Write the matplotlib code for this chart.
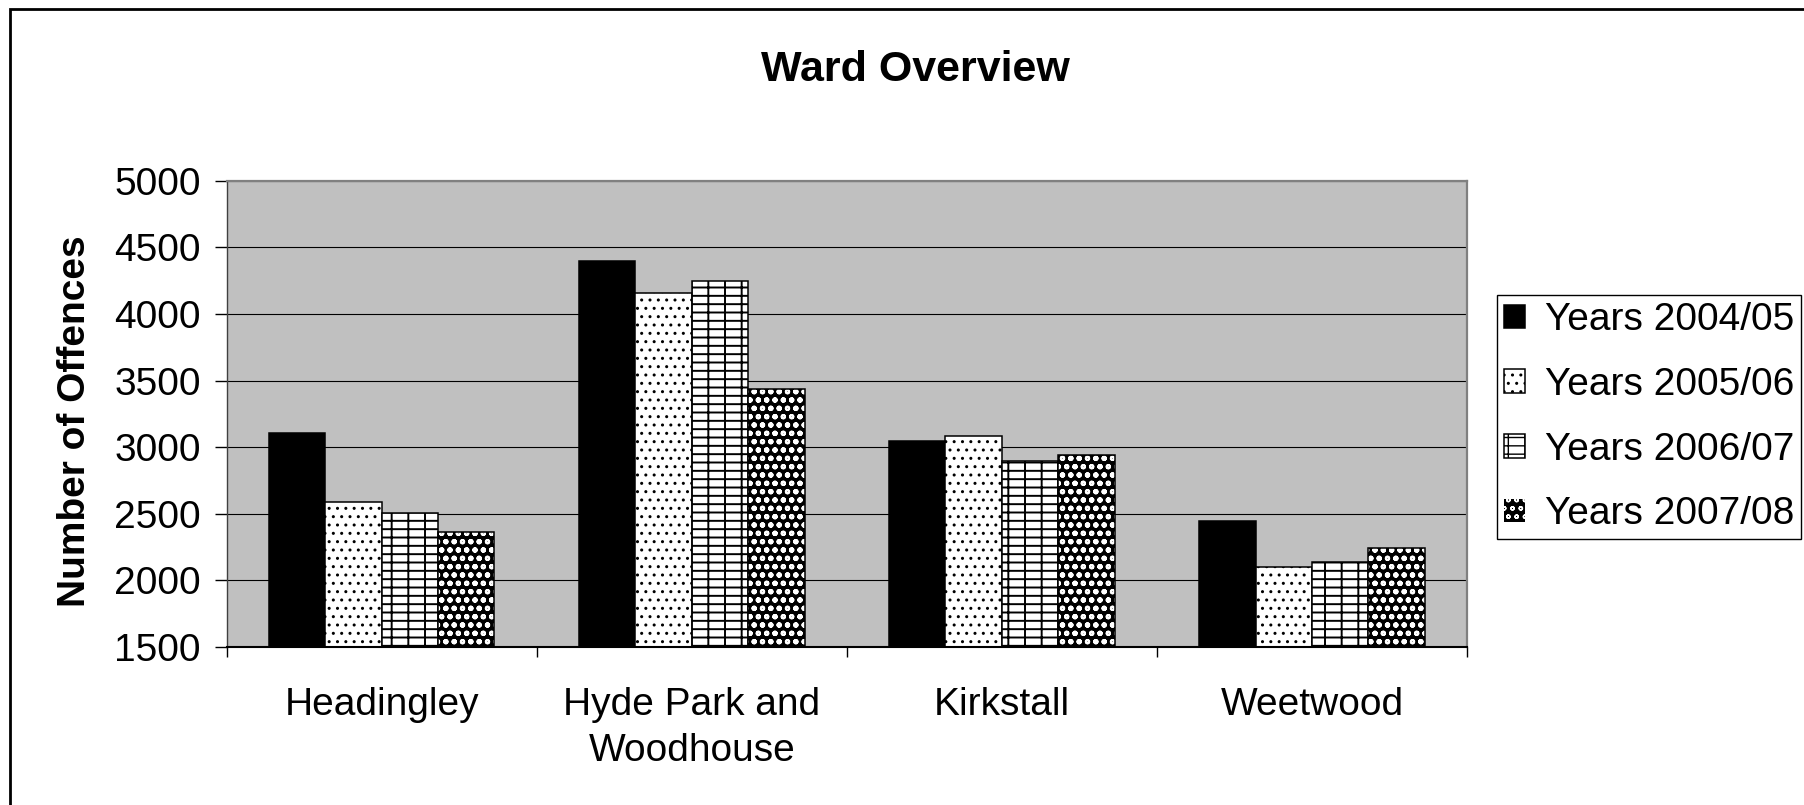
import matplotlib
matplotlib.use("Agg")
import matplotlib.pyplot as plt
import numpy as np
from matplotlib.patches import Rectangle

plt.rcParams["font.family"] = ["Liberation Sans", "DejaVu Sans"]

wards = ["Headingley", "Hyde Park and\nWoodhouse", "Kirkstall", "Weetwood"]
years = ["Years 2004/05", "Years 2005/06", "Years 2006/07", "Years 2007/08"]
y0405 = [3105, 4400, 3045, 2447]
y0506 = [2587, 4160, 3082, 2095]
y0607 = [2507, 4245, 2896, 2132]
y0708 = [2360, 3437, 2940, 2238]
yticks = [1500, 2000, 2500, 3000, 3500, 4000, 4500, 5000]


def set_hatch_lw(bars, lw):
    for p in bars:
        if hasattr(p, "set_hatch_linewidth"):
            p.set_hatch_linewidth(lw)


fig = plt.figure(figsize=(18.04, 8.05), dpi=100)
ax = fig.add_axes([0.1256, 0.1968, 0.6876, 0.5784])
ax.set_facecolor("#c0c0c0")

x = np.arange(len(wards))
w = 1 / 5.5
offs = [-1.5 * w, -0.5 * w, 0.5 * w, 1.5 * w]

b1 = ax.bar(x + offs[0], y0405, w, color="black", edgecolor="black",
            linewidth=1.1, label=years[0])
b2 = ax.bar(x + offs[1], y0506, w, color="white", edgecolor="black",
            linewidth=1.1, hatch="..", label=years[1])
set_hatch_lw(b2, 1.0)
b3 = ax.bar(x + offs[2], y0607, w, color="white", edgecolor="black",
            linewidth=1.1, hatch="--|", label=years[2])
set_hatch_lw(b3, 1.4)
# black bars with white rings, then a black outline on top
b4 = ax.bar(x + offs[3], y0708, w, color="black", edgecolor="white",
            linewidth=0, hatch="oo", label=years[3])
set_hatch_lw(b4, 1.5)
ax.bar(x + offs[3], y0708, w, color="none", edgecolor="black", linewidth=1.1)

ax.set_ylim(1500, 5000)
ax.set_xlim(-0.5, len(wards) - 0.5)
ax.set_yticks(yticks)
ax.set_xticks(x)
ax.set_xticklabels(wards, linespacing=1.35)
ax.set_xticks(np.arange(-0.5, len(wards)), minor=True)
ax.yaxis.grid(True, color="black", linewidth=0.8)
ax.set_axisbelow(True)

ax.tick_params(axis="y", length=8.5, width=1, pad=10, labelsize=28)
ax.tick_params(axis="x", which="major", length=0, pad=29, labelsize=28)
ax.tick_params(axis="x", which="minor", length=7, width=1)

for side in ["top", "right"]:
    ax.spines[side].set_color("#808080")
    ax.spines[side].set_linewidth(1.6)
ax.spines["left"].set_color("#404040")
ax.spines["left"].set_linewidth(1.0)
ax.spines["bottom"].set_color("black")
ax.spines["bottom"].set_linewidth(1.5)

fig.text(915 / 1804, 1 - 70 / 805, "Ward Overview", ha="center", va="center",
         fontsize=31, fontweight="bold")
fig.text(75 / 1804, 1 - 421 / 805, "Number of Offences", ha="center",
         va="center", rotation=90, fontsize=28, fontweight="bold")

leg = fig.legend([b1, b2, b3, b4], years, loc="upper left",
                 bbox_to_anchor=(1497 / 1804, 1 - 295 / 805), borderaxespad=0,
                 fancybox=False, edgecolor="black", framealpha=1, fontsize=28,
                 handlelength=0.55, handleheight=0.55, handletextpad=0.5,
                 borderpad=0.18, labelspacing=0.74)
leg.get_frame().set_linewidth(1.0)

# outer chart border, runs off the right and bottom edges
fig.patches.append(Rectangle((10 / 1804, -0.1), 1.2, 1.1 - 9.5 / 805,
                             transform=fig.transFigure, fill=False,
                             edgecolor="black", linewidth=2))

fig.savefig("out.png", dpi=100)
